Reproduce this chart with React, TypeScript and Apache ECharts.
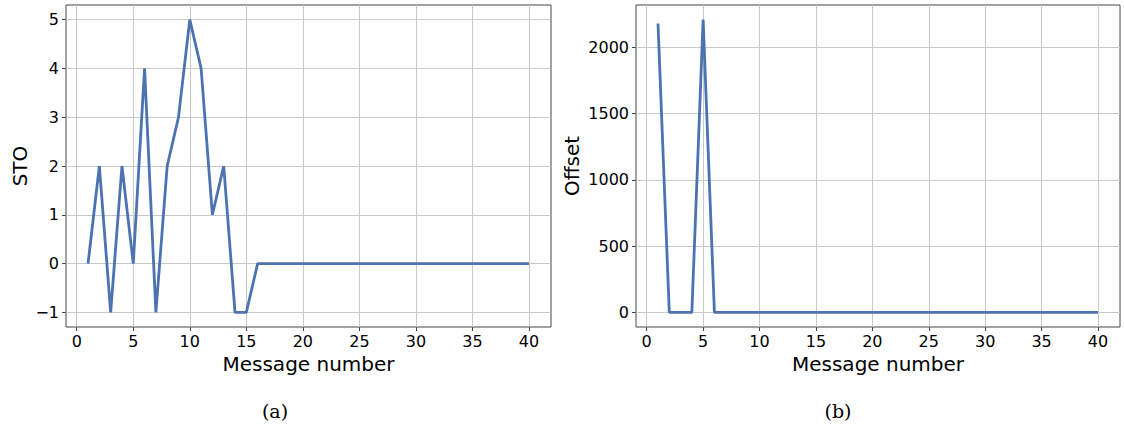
import React, { useEffect, useRef } from "react";
import * as echarts from "echarts";

const messageNumbers = [
  1, 2, 3, 4, 5, 6, 7, 8, 9, 10, 11, 12, 13, 14, 15, 16, 17, 18, 19, 20,
  21, 22, 23, 24, 25, 26, 27, 28, 29, 30, 31, 32, 33, 34, 35, 36, 37, 38, 39, 40,
];
const stoValues = [
  0, 2, -1, 2, 0, 4, -1, 2, 3, 5, 4, 1, 2, -1, -1, 0, 0, 0, 0, 0,
  0, 0, 0, 0, 0, 0, 0, 0, 0, 0, 0, 0, 0, 0, 0, 0, 0, 0, 0, 0,
];
const offsetValues = [
  2180, 0, 0, 0, 2210, 0, 0, 0, 0, 0, 0, 0, 0, 0, 0, 0, 0, 0, 0, 0,
  0, 0, 0, 0, 0, 0, 0, 0, 0, 0, 0, 0, 0, 0, 0, 0, 0, 0, 0, 0,
];
const xTicks = [0, 5, 10, 15, 20, 25, 30, 35, 40];
const stoTicks = [-1, 0, 1, 2, 3, 4, 5];
const offsetTicks = [0, 500, 1000, 1500, 2000];
const captions = ["(a)", "(b)"];

const LINE = "#4c72b0";
const GRIDC = "#c8c8c8";
const FRAME = "#444444";
const FONT = "DejaVu Sans";

const fmt = (v: number) => String(v).replace("-", "\u2212");

function xAxisFor(gridIndex: number) {
  return {
    type: "value",
    gridIndex,
    min: -0.95,
    max: 41.95,
    name: "Message number",
    nameLocation: "middle",
    nameGap: 25,
    nameTextStyle: { fontFamily: FONT, fontSize: 20, color: "#000" },
    axisLine: { show: false, onZero: false },
    axisTick: { show: true, length: 4, customValues: xTicks, lineStyle: { color: FRAME } },
    axisLabel: {
      customValues: xTicks,
      formatter: fmt,
      fontFamily: FONT,
      fontSize: 16,
      color: "#000",
      margin: 6,
    },
    splitLine: { show: true, lineStyle: { color: GRIDC, width: 1 } },
  };
}

function yAxisFor(gridIndex: number, name: string, min: number, max: number, ticks: number[], gap: number) {
  return {
    type: "value",
    gridIndex,
    min,
    max,
    name,
    nameLocation: "middle",
    nameGap: gap,
    nameTextStyle: { fontFamily: FONT, fontSize: 20, color: "#000" },
    axisLine: { show: false, onZero: false },
    axisTick: { show: true, length: 4, customValues: ticks, lineStyle: { color: FRAME } },
    axisLabel: {
      customValues: ticks,
      formatter: fmt,
      fontFamily: FONT,
      fontSize: 16,
      color: "#000",
      margin: 7,
    },
    splitLine: { show: true, lineStyle: { color: GRIDC, width: 1 } },
  };
}

export default function App() {
  const ref = useRef<HTMLDivElement>(null);
  useEffect(() => {
    if (!ref.current) return;
    const chart = echarts.init(ref.current, null, { renderer: "svg" });
    chart.setOption({
      animation: false,
      backgroundColor: "#fff",
      grid: [
        { left: 66, top: 5, width: 485, height: 322, show: true, borderColor: FRAME, borderWidth: 1, backgroundColor: "transparent" },
        { left: 636, top: 5, width: 484, height: 322, show: true, borderColor: FRAME, borderWidth: 1, backgroundColor: "transparent" },
      ],
      xAxis: [xAxisFor(0), xAxisFor(1)],
      yAxis: [
        yAxisFor(0, "STO", -1.3, 5.3, stoTicks, 36),
        yAxisFor(1, "Offset", -110, 2320, offsetTicks, 54),
      ],
      series: [
        {
          type: "line",
          xAxisIndex: 0,
          yAxisIndex: 0,
          data: messageNumbers.map((m, i) => [m, stoValues[i]]),
          showSymbol: false,
          lineStyle: { color: LINE, width: 2.8 },
          itemStyle: { color: LINE },
        },
        {
          type: "line",
          xAxisIndex: 1,
          yAxisIndex: 1,
          data: messageNumbers.map((m, i) => [m, offsetValues[i]]),
          showSymbol: false,
          lineStyle: { color: LINE, width: 2.8 },
          itemStyle: { color: LINE },
        },
      ],
      graphic: [
        {
          type: "text",
          x: 275,
          y: 411,
          style: { text: captions[0], fontFamily: "DejaVu Serif", fontSize: 19, fill: "#000", textAlign: "center", textVerticalAlign: "middle" },
        },
        {
          type: "text",
          x: 838,
          y: 411,
          style: { text: captions[1], fontFamily: "DejaVu Serif", fontSize: 19, fill: "#000", textAlign: "center", textVerticalAlign: "middle" },
        },
      ],
    });
    return () => chart.dispose();
  }, []);
  return (
    <div
      ref={ref}
      style={{ position: "absolute", left: 0, top: 0, width: 1124, height: 430 }}
    />
  );
}
